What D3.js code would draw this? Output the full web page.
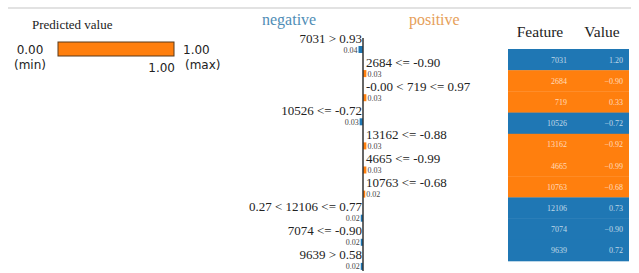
<!DOCTYPE html>
<html>
  <head>
    <meta charset="utf-8">
    <title>LIME explanation</title>
    <style>
      body { margin: 0; background: #fff; }
    </style>
  </head>
  <body>
    <script src="https://d3js.org/d3.v7.min.js"></script>
    <svg id="chart" width="639" height="273"></svg>
    <script>

      // Data
      var predMin = 0.00, predMax = 1.00, predValue = 1.00;
      var ruleLabels = ["7031 > 0.93", "2684 <= -0.90", "-0.00 < 719 <= 0.97", "10526 <= -0.72",
        "13162 <= -0.88", "4665 <= -0.99", "10763 <= -0.68", "0.27 < 12106 <= 0.77",
        "7074 <= -0.90", "9639 > 0.58"];
      var weights = [-0.04, 0.03, 0.03, -0.03, 0.03, 0.03, 0.02, -0.02, -0.02, -0.02];
      var featureNames = ["7031", "2684", "719", "10526", "13162", "4665", "10763", "12106", "7074", "9639"];
      var featureValues = [1.20, -0.90, 0.33, -0.72, -0.92, -0.99, -0.68, 0.73, -0.90, 0.72];

      var blue = "#1f77b4", orange = "#ff7f0e";
      var serif = "'Liberation Serif', 'Times New Roman', serif";
      var sans = "'DejaVu Sans', Verdana, sans-serif";

      var svg = d3.select("#chart");

      // top rule
      svg.append("line")
        .attr("x1", 8).attr("x2", 631).attr("y1", 8).attr("y2", 8)
        .attr("stroke", "#d8d8d8").attr("stroke-width", 1.5);

      // ---- Predicted value panel
      var pred = svg.append("g");
      var px = d3.scaleLinear().domain([predMin, predMax]).range([58, 174]);

      pred.append("text").attr("x", 32).attr("y", 29)
        .style("font-family", serif).style("font-size", "13px").attr("fill", "#222")
        .text("Predicted value");

      pred.append("rect")
        .attr("x", px(predMin)).attr("y", 42)
        .attr("width", px(predValue) - px(predMin)).attr("height", 14)
        .attr("fill", orange).attr("stroke", "#5a3a1a").attr("stroke-width", 1);

      var small = { "font-family": sans, "font-size": "12px", "fill": "#222" };
      function t(x, y, s, anchor) {
        var e = pred.append("text").attr("x", x).attr("y", y).attr("text-anchor", anchor || "start").text(s);
        Object.keys(small).forEach(function (k) { e.style(k, small[k]); });
        return e;
      }
      t(30, 54, d3.format(".2f")(predMin), "middle");
      t(30, 69, "(min)", "middle");
      t(183, 54, d3.format(".2f")(predMax));
      t(185, 69, "(max)");
      t(px(predValue) + 1, 72, d3.format(".2f")(predValue), "end");

      // ---- Explanation bars
      var axisX = 363;
      var rowStep = 24.1, row0 = 42.5;
      var y = function (i) { return row0 + rowStep * i; };
      var wScale = d3.scaleLinear().domain([0, 0.04]).range([0, 4.5]);

      var expl = svg.append("g");
      expl.append("text").attr("x", 262).attr("y", 25)
        .style("font-family", serif).style("font-size", "16px").attr("fill", "#4f8db6")
        .text("negative");
      expl.append("text").attr("x", 409).attr("y", 25)
        .style("font-family", serif).style("font-size", "16px").attr("fill", "#e6a05a")
        .text("positive");

      var rows = expl.selectAll("g.row")
        .data(weights.map(function (w, i) { return { w: w, label: ruleLabels[i], i: i }; }))
        .enter().append("g").attr("class", "row");

      rows.append("text")
        .attr("x", function (d) { return d.w < 0 ? axisX - 1 : axisX + 3; })
        .attr("y", function (d) { return y(d.i); })
        .attr("text-anchor", function (d) { return d.w < 0 ? "end" : "start"; })
        .style("font-family", serif).style("font-size", "13px").attr("fill", "#222")
        .text(function (d) { return d.label; });

      rows.append("rect")
        .attr("x", function (d) { return d.w < 0 ? axisX - wScale(-d.w) : axisX; })
        .attr("y", function (d) { return y(d.i) + 3.5; })
        .attr("width", function (d) { return wScale(Math.abs(d.w)); })
        .attr("height", 7)
        .attr("fill", function (d) { return d.w < 0 ? blue : orange; });

      rows.append("text")
        .attr("x", function (d) { return d.w < 0 ? axisX - wScale(-d.w) - 1 : axisX + wScale(d.w) + 1; })
        .attr("y", function (d) { return y(d.i) + 10; })
        .attr("text-anchor", function (d) { return d.w < 0 ? "end" : "start"; })
        .style("font-family", serif).style("font-size", "8px").attr("fill", "#444")
        .text(function (d) { return d3.format(".2f")(Math.abs(d.w)); });

      expl.append("line")
        .attr("x1", axisX).attr("x2", axisX).attr("y1", 38).attr("y2", 271)
        .attr("stroke", "#333").attr("stroke-width", 1.5);

      // ---- Feature / Value table
      var tbl = svg.append("g");
      var tx0 = 508, tx1 = 629, ty0 = 49, rowH = 21.2;
      tbl.append("text").attr("x", 540).attr("y", 37).attr("text-anchor", "middle")
        .style("font-family", serif).style("font-size", "15.5px").attr("fill", "#222").text("Feature");
      tbl.append("text").attr("x", 602).attr("y", 37).attr("text-anchor", "middle")
        .style("font-family", serif).style("font-size", "15.5px").attr("fill", "#222").text("Value");

      var trows = tbl.selectAll("g.trow")
        .data(featureNames.map(function (f, i) { return { f: f, v: featureValues[i], w: weights[i], i: i }; }))
        .enter().append("g").attr("class", "trow");

      trows.append("rect")
        .attr("x", tx0).attr("y", function (d) { return ty0 + rowH * d.i; })
        .attr("width", tx1 - tx0).attr("height", rowH + 0.3)
        .attr("fill", function (d) { return d.w < 0 ? blue : orange; });

      trows.append("text")
        .attr("x", 567).attr("y", function (d) { return ty0 + rowH * d.i + 13.5; })
        .attr("text-anchor", "end")
        .style("font-family", serif).style("font-size", "8px")
        .attr("fill", "#fff").attr("fill-opacity", 0.72)
        .text(function (d) { return d.f; });

      trows.append("text")
        .attr("x", 623).attr("y", function (d) { return ty0 + rowH * d.i + 13.5; })
        .attr("text-anchor", "end")
        .style("font-family", serif).style("font-size", "8px")
        .attr("fill", "#fff").attr("fill-opacity", 0.72)
        .text(function (d) { return d3.format(".2f")(d.v); });

    </script>
  </body>
</html>
